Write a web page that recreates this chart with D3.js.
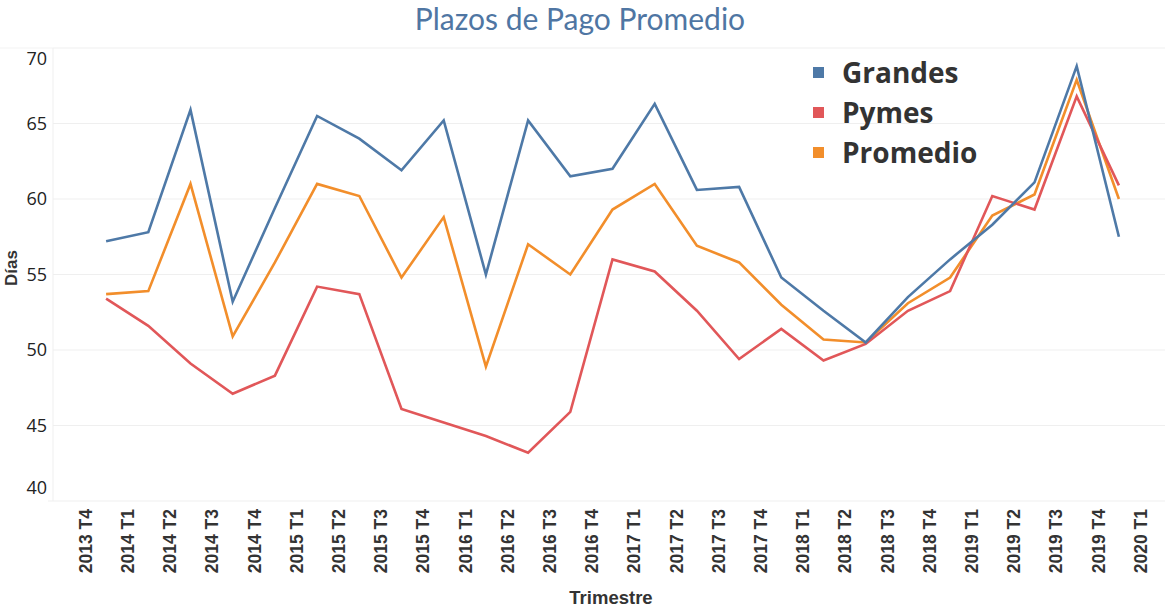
<!DOCTYPE html>
<html>
<head>
<meta charset="utf-8">
<script src="https://d3js.org/d3.v7.min.js"></script>
<style>
  body { margin: 0; background: #fff; }
  svg { display: block; }
</style>
</head>
<body>
<svg width="1165" height="608"></svg>
<script>
	// quarter labels (26 edges) and the 25 values per series
	const quarters = ["2013 T4","2014 T1","2014 T2","2014 T3","2014 T4","2015 T1","2015 T2","2015 T3","2015 T4",
		"2016 T1","2016 T2","2016 T3","2016 T4","2017 T1","2017 T2","2017 T3","2017 T4",
		"2018 T1","2018 T2","2018 T3","2018 T4","2019 T1","2019 T2","2019 T3","2019 T4","2020 T1"]
	const grandes = [57.2, 57.8, 65.9, 53.2, 59.4, 65.5, 64.0, 61.9, 65.2, 55.0, 65.2, 61.5, 62.0,
		66.3, 60.6, 60.8, 54.8, 52.6, 50.5, 53.5, 56.0, 58.3, 61.1, 68.8, 57.5]
	const pymes = [53.4, 51.6, 49.1, 47.1, 48.3, 54.2, 53.7, 46.1, 45.2, 44.3, 43.2, 45.9, 56.0,
		55.2, 52.6, 49.4, 51.4, 49.3, 50.4, 52.6, 53.9, 60.2, 59.3, 66.8, 60.9]
	const promedio = [53.7, 53.9, 61.0, 50.9, 55.8, 61.0, 60.2, 54.8, 58.8, 48.9, 57.0, 55.0, 59.3,
		61.0, 56.9, 55.8, 53.0, 50.7, 50.5, 53.1, 54.8, 58.9, 60.3, 67.9, 60.0]
	const yTicks = [40, 45, 50, 55, 60, 65, 70]

	const series = [
		{name: "Grandes", values: grandes, color: "#4e79a7"},
		{name: "Pymes", values: pymes, color: "#e15759"},
		{name: "Promedio", values: promedio, color: "#f28e2b"}
	]

	const svg = d3.select("svg")
	const plotLeft = 53, plotRight = 1165, plotTop = 48, plotBottom = 501

	const x = d3.scalePoint().domain(quarters).range([85, 1140])
	const y = d3.scaleLinear().domain([40, 70]).range([plotBottom, plotTop])

	// title
	svg.append("text")
		.attr("x", 580).attr("y", 30)
		.attr("text-anchor", "middle")
		.attr("font-family", "Lato, sans-serif")
		.attr("font-size", 30)
		.attr("fill", "#4f76a3")
		.text("Plazos de Pago Promedio")

	// gridlines
	svg.append("g").selectAll("line")
		.data(yTicks.slice(1))
		.join("line")
			.attr("x1", plotLeft).attr("x2", plotRight)
			.attr("y1", d => y(d)).attr("y2", d => y(d))
			.attr("stroke", "#efefef")
	svg.append("line").attr("x1", 0).attr("x2", plotLeft).attr("y1", plotTop).attr("y2", plotTop).attr("stroke", "#f3f3f3")
	svg.append("line").attr("x1", plotLeft).attr("x2", plotLeft).attr("y1", plotTop).attr("y2", plotBottom).attr("stroke", "#efefef")
	svg.append("line").attr("x1", plotLeft - 5).attr("x2", plotRight).attr("y1", plotBottom).attr("y2", plotBottom).attr("stroke", "#efefef")

	// y axis
	const yAxis = svg.append("g")
		.attr("transform", `translate(${plotLeft},0)`)
		.call(d3.axisLeft(y).tickValues(yTicks).tickSize(0).tickPadding(6))
	yAxis.select(".domain").remove()
	yAxis.selectAll("text")
		.attr("font-family", "'Open Sans', sans-serif")
		.attr("font-size", 18)
		.attr("fill", "#222")
		.attr("dy", d => d === 70 ? "0.9em" : d === 40 ? "-0.4em" : "0.32em")

	// x axis
	const xAxis = svg.append("g")
		.attr("transform", `translate(0,${plotBottom})`)
		.call(d3.axisBottom(x).tickSize(0))
	xAxis.select(".domain").remove()
	xAxis.selectAll("text")
		.attr("font-family", "'Liberation Sans', Arial, sans-serif")
		.attr("font-weight", "bold")
		.attr("font-size", 17.5)
		.attr("fill", "#333")
		.attr("text-anchor", "end")
		.attr("transform", "rotate(-90)")
		.attr("x", -8).attr("y", 0).attr("dy", "0.36em")

	// axis titles
	svg.append("text")
		.attr("transform", "translate(17,268) rotate(-90)")
		.attr("text-anchor", "middle")
		.attr("font-family", "'Liberation Sans', Arial, sans-serif")
		.attr("font-weight", "bold").attr("font-size", 17)
		.attr("fill", "#333")
		.text("Días")
	svg.append("text")
		.attr("x", 611).attr("y", 604)
		.attr("text-anchor", "middle")
		.attr("font-family", "'Liberation Sans', Arial, sans-serif")
		.attr("font-weight", "bold").attr("font-size", 18.5)
		.attr("fill", "#333")
		.text("Trimestre")

	// lines: each value sits between two quarter labels
	const half = x.step() / 2
	const line = d3.line()
		.x((d, i) => x(quarters[i]) + half)
		.y(d => y(d))

	svg.append("g").selectAll("path")
		.data(series.slice().reverse())
		.join("path")
			.attr("d", d => line(d.values))
			.attr("fill", "none")
			.attr("stroke", d => d.color)
			.attr("stroke-width", 2.6)
			.attr("stroke-linejoin", "miter")

	// legend
	const legend = svg.append("g").attr("transform", "translate(813,73)")
	const item = legend.selectAll("g")
		.data(series)
		.join("g")
			.attr("transform", (d, i) => `translate(0,${i * 40})`)
	item.append("rect")
		.attr("x", 0).attr("y", -6).attr("width", 11).attr("height", 11)
		.attr("fill", d => d.color)
	item.append("text")
		.attr("x", 29).attr("dy", "0.35em")
		.attr("font-family", "'Open Sans', sans-serif")
		.attr("font-weight", "bold").attr("font-size", 28)
		.attr("fill", "#333")
		.text(d => d.name)
</script>
</body>
</html>
